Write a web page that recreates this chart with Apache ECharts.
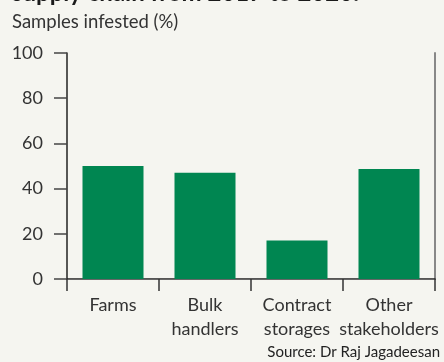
<!DOCTYPE html>
<html><head><meta charset="utf-8">
<script src="https://cdn.jsdelivr.net/npm/echarts@6/dist/echarts.min.js"></script>
<style>html,body{margin:0;padding:0;background:#f5f5f0;}#c{width:444px;height:362px;}</style>
</head><body><div id="c"></div>
<script>
const categories = ['Farms', 'Bulk\nhandlers', 'Contract\nstorages', 'Other\nstakeholders'];
const values = [50, 47, 17, 48.7];
const yTicks = [0, 20, 40, 60, 80, 100];
const FONT = 'Lato';
const chart = echarts.init(document.getElementById('c'));
chart.setOption({
  backgroundColor: '#f5f5f0',
  animation: false,
  graphic: [
    {type: 'text', left: 12, top: -19, style: {text: 'supply chain from 2017 to 2020.', font: 'bold 24px ' + FONT, fill: '#1a1a1a'}},
    {type: 'text', left: 12, top: 13, style: {text: 'Samples infested (%)', font: '18.5px ' + FONT, fill: '#333'}},
    {type: 'text', right: 4, top: 345, style: {text: 'Source: Dr Raj Jagadeesan', font: '15px ' + FONT, fill: '#222'}}
  ],
  grid: {left: 67, right: 9, top: 53, bottom: 83},
  xAxis: [{
    type: 'category', data: categories, boundaryGap: true,
    axisLine: {lineStyle: {color: '#222', width: 1.5}},
    axisTick: {show: true, length: 12, lineStyle: {color: '#333', width: 1.5}},
    axisLabel: {fontFamily: FONT, fontSize: 18, color: '#333', margin: 14, lineHeight: 24, interval: 0}
  }, {
    type: 'category', data: categories, position: 'top',
    axisLine: {lineStyle: {color: '#666', width: 1.2}}, axisTick: {show: false}, axisLabel: {show: false}
  }],
  yAxis: [{
    type: 'value', min: 0, max: 100, interval: 20,
    axisLine: {show: true, lineStyle: {color: '#222', width: 1.5}},
    axisTick: {show: true, length: 13, lineStyle: {color: '#444', width: 1.5}},
    splitLine: {show: false},
    axisLabel: {fontFamily: FONT, fontSize: 18, color: '#333', margin: 24,
      formatter: v => yTicks.includes(v) ? String(v) : ''}
  }, {
    type: 'value', min: 0, max: 100, interval: 20, position: 'right',
    axisLine: {show: true, lineStyle: {color: '#888', width: 2}},
    axisTick: {show: false}, axisLabel: {show: false}, splitLine: {show: false}
  }],
  series: [{
    type: 'bar', data: values, barWidth: 61, itemStyle: {color: '#008651'}
  }]
});
</script></body></html>
